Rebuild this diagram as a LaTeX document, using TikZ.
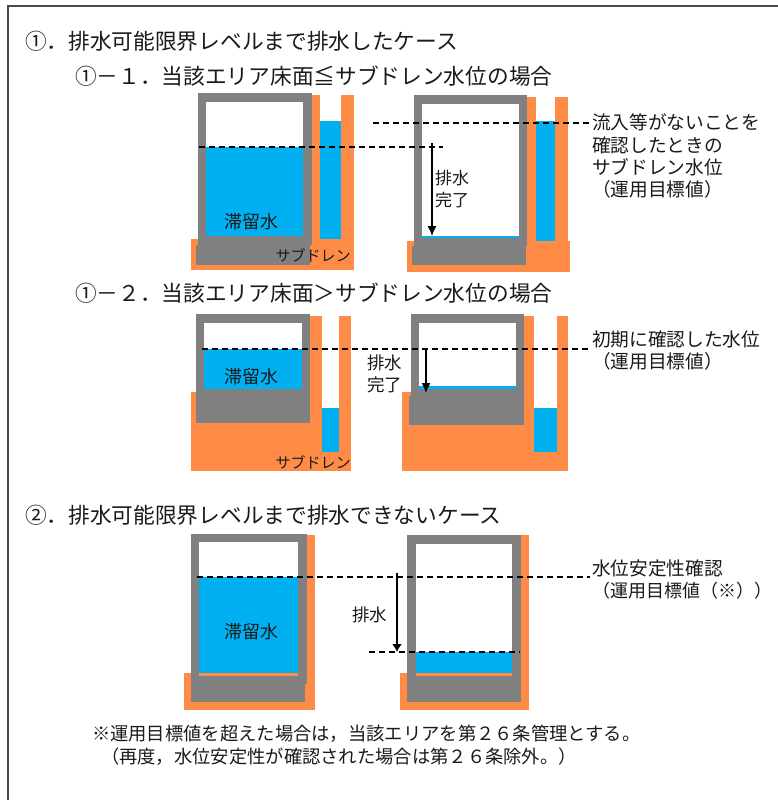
\documentclass[tikz,border=0pt]{standalone}
\usepackage{fontspec}
\setmainfont{Noto Sans CJK JP}
\definecolor{sdorange}{HTML}{FF8C46}
\definecolor{sdblue}{HTML}{00B0F0}
\definecolor{sdgray}{HTML}{808080}
\definecolor{txtgray}{HTML}{1A1A1A}
\definecolor{frameg}{HTML}{4A4A4A}
\usetikzlibrary{arrows.meta}
\tikzset{
  lbl/.style={anchor=west,inner sep=0pt,outer sep=0pt,text=txtgray},
  ctr/.style={anchor=center,inner sep=0pt,outer sep=0pt,text=txtgray},
  lvl/.style={black,line width=1.2pt,dash pattern=on 6pt off 4pt},
  drain/.style={black,line width=1.3pt,-{Latex[length=10pt,width=9pt]}},
  drainb/.style={black,line width=2.2pt,-{Latex[length=8pt,width=10pt]}}
}
\newcommand{\fsz}[1]{\fontsize{#1}{#1}\selectfont}
\begin{document}
\begin{tikzpicture}[x=1pt,y=-1pt]
\useasboundingbox (0,0) rectangle (777,800);
\fill[white] (0,0) rectangle (777,800);
\draw[frameg,line width=1.6pt] (8,801) -- (8,6) -- (778,6);

% ---- scene 1-1 left
\fill[sdorange] (191,239) rectangle (354,270);
\fill[sdorange] (312,95) rectangle (320,239);
\fill[sdorange] (341,95) rectangle (354,239);
\fill[sdblue] (320,121) rectangle (341,239);
\fill[sdgray] (198,93) rectangle (312,245);
\fill[sdgray] (196,245) rectangle (310,265);
\fill[white] (206,102) rectangle (303,236);
\fill[sdblue] (206,147) rectangle (303,236);
% ---- scene 1-1 right
\fill[sdorange] (407,241) rectangle (570,272);
\fill[sdorange] (527,97) rectangle (536,241);
\fill[sdorange] (555,97) rectangle (568,241);
\fill[sdblue] (536,121) rectangle (555,241);
\fill[sdgray] (414,95) rectangle (527,246);
\fill[sdgray] (412,246) rectangle (526,265);
\fill[white] (422,104) rectangle (519,237);
\fill[sdblue] (422,236) rectangle (519,237.5);
\draw[lvl] (199,147) -- (443,147);
\draw[lvl] (373,123) -- (590,123);
\draw[drain] (432,143) -- (432,236);

% ---- scene 1-2 left
\fill[sdorange] (191,392) rectangle (351,471);
\fill[sdorange] (310,316) rectangle (322,392);
\fill[sdorange] (339,316) rectangle (351,392);
\fill[white] (322,316) rectangle (339,452);
\fill[sdblue] (322,408) rectangle (339,452);
\fill[sdgray] (196,314) rectangle (310,423);
\fill[white] (204,323) rectangle (302,389);
\fill[sdblue] (204,349) rectangle (302,389);
% ---- scene 1-2 right
\fill[sdorange] (402,392) rectangle (568,471);
\fill[sdorange] (524,316) rectangle (534,392);
\fill[sdorange] (557,316) rectangle (568,392);
\fill[white] (534,316) rectangle (557,452);
\fill[sdblue] (534,408) rectangle (557,452);
\fill[sdgray] (411,314) rectangle (524,425);
\fill[sdgray] (409,396) rectangle (524,425);
\fill[white] (419,323) rectangle (516,389);
\fill[sdblue] (419,386) rectangle (516,389);
\draw[lvl] (202,349) -- (590,349);
\draw[drain] (426,349) -- (426,393);

% ---- scene 2 left
\fill[sdorange] (184,673) rectangle (315,710);
\fill[sdorange] (300,535) rectangle (315,673);
\fill[sdgray] (191,534) rectangle (307,684);
\fill[sdgray] (191,684) rectangle (305,702);
\fill[white] (199,542) rectangle (298,673);
\fill[sdblue] (199,577) rectangle (298,673);
\fill[sdorange] (199,673) rectangle (298,676);
% ---- scene 2 right
\fill[sdorange] (400,673) rectangle (529,710);
\fill[sdorange] (515,535) rectangle (529,673);
\fill[sdgray] (407,535) rectangle (521,702);
\fill[white] (416,544) rectangle (512,673);
\fill[sdblue] (416,652) rectangle (512,673);
\fill[sdorange] (416,673) rectangle (512,676);
\draw[lvl] (197,577) -- (590,577);
\draw[lvl] (369,652) -- (520,652);
\draw[drainb] (397,573) -- (397,652);

% ---- headings
\node[lbl] (h1) at (25,41) {\fsz{21.7}①．排水可能限界レベルまで排水したケース};
\node[lbl] (h11) at (75,76) {\fsz{21.7}①－１．当該エリア床面≦サブドレン水位の場合};
\node[lbl] (h12) at (75,293) {\fsz{21.7}①－２．当該エリア床面＞サブドレン水位の場合};
\node[lbl] (h2) at (25,515) {\fsz{21.7}②．排水可能限界レベルまで排水できないケース};

% ---- right labels
\node[lbl] (a1) at (592,122) {\fsz{18.7}流入等がないことを};
\node[lbl] (a2) at (592,145) {\fsz{18.7}確認したときの};
\node[lbl] (a3) at (592,167) {\fsz{18.7}サブドレン水位};
\node[lbl] (a4) at (592,189) {\fsz{18.7}（運用目標値）};
\node[lbl] (b1) at (592,339) {\fsz{18.7}初期に確認した水位};
\node[lbl] (b2) at (592,361) {\fsz{18.7}（運用目標値）};
\node[lbl] (c1) at (592,568) {\fsz{18.7}水位安定性確認};
\node[lbl] (c2) at (592,591) {\fsz{18}（運用目標値（※））};

% ---- inner labels
\node[ctr] (w1) at (251,222) {\fsz{18}滞留水};
\node[ctr] (w2) at (251,377) {\fsz{18}滞留水};
\node[ctr] (w3) at (251,632) {\fsz{18}滞留水};
\node[ctr] (s1) at (313,255) {\fsz{15}サブドレン};
\node[ctr] (s2) at (313,462) {\fsz{15}サブドレン};
\node[lbl] (d1) at (435,178) {\fsz{17}排水};
\node[lbl] (d2) at (435,200) {\fsz{17}完了};
\node[lbl] (e1) at (367,363) {\fsz{17.5}排水};
\node[lbl] (e2) at (367,385) {\fsz{17.5}完了};
\node[lbl] (f1) at (352,615) {\fsz{17.5}排水};

% ---- note
\node[lbl] (n1) at (92,734) {\fsz{18.3}※運用目標値を超えた場合は，当該エリアを第２６条管理とする。};
\node[lbl] (n2) at (101,757) {\fsz{18.3}（再度，水位安定性が確認された場合は第２６条除外。）};
\end{tikzpicture}
\end{document}
